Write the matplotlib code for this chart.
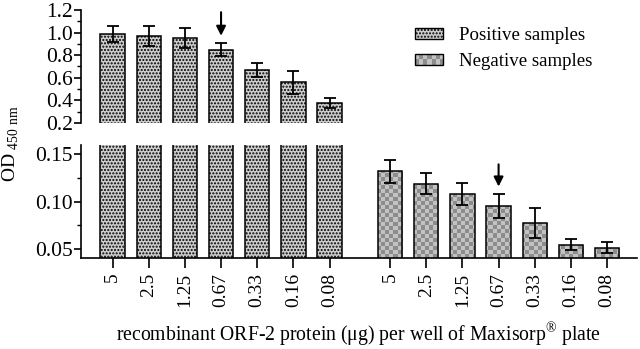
import numpy as np
import matplotlib
matplotlib.use('Agg')
import matplotlib.pyplot as plt
from matplotlib.colors import ListedColormap, Normalize
from matplotlib.image import BboxImage
from matplotlib.legend_handler import HandlerBase
from matplotlib.patches import Patch, Rectangle
from matplotlib.ticker import MultipleLocator, FormatStrFormatter
from matplotlib.transforms import Bbox, TransformedBbox

plt.rcParams['font.family'] = ['Liberation Serif', 'DejaVu Serif']
plt.rcParams['mathtext.fontset'] = 'custom'
plt.rcParams['mathtext.rm'] = 'Liberation Serif'
plt.rcParams['hatch.linewidth'] = 1.0

# data
doses = ['5', '2.5', '1.25', '0.67', '0.33', '0.16', '0.08']
pos_od = [0.99, 0.97, 0.95, 0.85, 0.67, 0.56, 0.38]
pos_err = [0.07, 0.085, 0.09, 0.06, 0.06, 0.10, 0.045]
neg_od = [0.132, 0.119, 0.108, 0.0955, 0.077, 0.054, 0.051]
neg_err = [0.0125, 0.0115, 0.012, 0.013, 0.016, 0.006, 0.0055]
arrow_dose = '0.67'

x_pos = np.arange(len(doses))
x_neg = np.arange(len(doses)) + 7.67
width = 0.67
xlim = (-0.87, 14.49)

checker_cmap = ListedColormap(['#c2c2c2', '#8c8c8c'])


def checker(ny, nx):
    return np.add.outer(np.arange(ny), np.arange(nx)) % 2


class CheckerHandler(HandlerBase):
    def create_artists(self, legend, orig_handle, xdescent, ydescent,
                       width, height, fontsize, trans):
        bb = TransformedBbox(Bbox.from_bounds(-xdescent, -ydescent, width, height), trans)
        img = BboxImage(bb, cmap=checker_cmap, norm=Normalize(0, 1),
                        interpolation='nearest')
        img.set_data(checker(2, 7))
        edge = Rectangle((-xdescent, -ydescent), width, height, facecolor='none',
                         edgecolor='black', lw=1.0, transform=trans)
        return [img, edge]


fig = plt.figure(figsize=(6.4, 3.49), dpi=100)
ax_top = fig.add_axes([0.1266, 0.6476, 0.8684, 0.3238])
ax_bot = fig.add_axes([0.1266, 0.2607, 0.8684, 0.3238])
ylims = {ax_top: (0.2, 1.2), ax_bot: (0.04, 0.16)}

ekw = dict(ecolor='black', elinewidth=1.3, capsize=4.3, capthick=1.3)
for ax in (ax_top, ax_bot):
    ax.bar(x_pos, pos_od, width, yerr=pos_err, color='#cdcdcd', edgecolor='black',
           hatch='.....', linewidth=1.1, error_kw=ekw, zorder=2)
    nb = ax.bar(x_neg, neg_od, width, yerr=neg_err, facecolor='none', edgecolor='black',
                linewidth=1.1, error_kw=ekw, zorder=3)
    # checkerboard fill, one image clipped to each bar
    for patch in nb:
        im = ax.imshow(checker(28, 139), cmap=checker_cmap, norm=Normalize(0, 1),
                       extent=(xlim[0], xlim[1], ylims[ax][0], ylims[ax][1]),
                       aspect='auto', interpolation='nearest', zorder=1.5)
        im.set_clip_path(patch)
    ax.set_xlim(*xlim)
    ax.set_ylim(*ylims[ax])
    ax.spines['top'].set_visible(False)
    ax.spines['right'].set_visible(False)
    ax.spines['left'].set_linewidth(1.2)
    ax.tick_params(axis='y', which='major', direction='out', length=5, width=1.2,
                   labelsize=15.5, pad=1)
    ax.tick_params(axis='y', which='minor', direction='out', length=3, width=1.0)

ax_top.spines['bottom'].set_visible(False)
ax_top.set_xticks([])
ax_top.yaxis.set_major_locator(MultipleLocator(0.2))
ax_top.yaxis.set_minor_locator(MultipleLocator(0.1))
ax_top.yaxis.set_major_formatter(FormatStrFormatter('%.1f'))

ax_bot.spines['bottom'].set_linewidth(1.2)
ax_bot.yaxis.set_major_locator(MultipleLocator(0.05))
ax_bot.yaxis.set_minor_locator(MultipleLocator(0.025))
ax_bot.yaxis.set_major_formatter(FormatStrFormatter('%.2f'))
ax_bot.set_xticks(np.concatenate([x_pos, x_neg]))
ax_bot.set_xticklabels(doses + doses, rotation=90, fontsize=14)
ax_bot.tick_params(axis='x', direction='out', length=7.5, width=1.2, pad=3)
ax_bot.set_xlabel(r'recombinant ORF-2 protein ($\mathrm{\mu}$g) per well of Maxisorp$^{\mathrm{®}}$ plate',
                  fontsize=14.2, labelpad=10)

fig.text(0.017, 0.589, r'OD$_{\mathrm{\ 450\ nm}}$', rotation=90, fontsize=14,
         ha='center', va='center')

# arrows marking the chosen coating amount
i = doses.index(arrow_dose)
arr = dict(arrowstyle='-|>', color='black', lw=1.5, shrinkA=0, shrinkB=5, mutation_scale=14)
ax_top.annotate('', xy=(x_pos[i], pos_od[i] + pos_err[i]), xytext=(0, 22),
                textcoords='offset points', arrowprops=arr, annotation_clip=False)
ax_bot.annotate('', xy=(x_neg[i], neg_od[i] + neg_err[i]), xytext=(0, 21),
                textcoords='offset points', arrowprops=arr, annotation_clip=False)

h_pos = Patch(facecolor='#cdcdcd', edgecolor='black', hatch='.....', lw=1.0,
              label='Positive samples')
h_neg = Patch(facecolor='#aaaaaa', edgecolor='black', label='Negative samples')
fig.legend(handles=[h_pos, h_neg], loc='upper left', bbox_to_anchor=(415 / 640, 1 - 27 / 349),
           frameon=False, fontsize=13.6, borderpad=0, borderaxespad=0,
           handlelength=1.5, handleheight=0.5, handletextpad=0.85, labelspacing=0.5,
           handler_map={h_neg: CheckerHandler()})

fig.savefig('out.png', dpi=100)
